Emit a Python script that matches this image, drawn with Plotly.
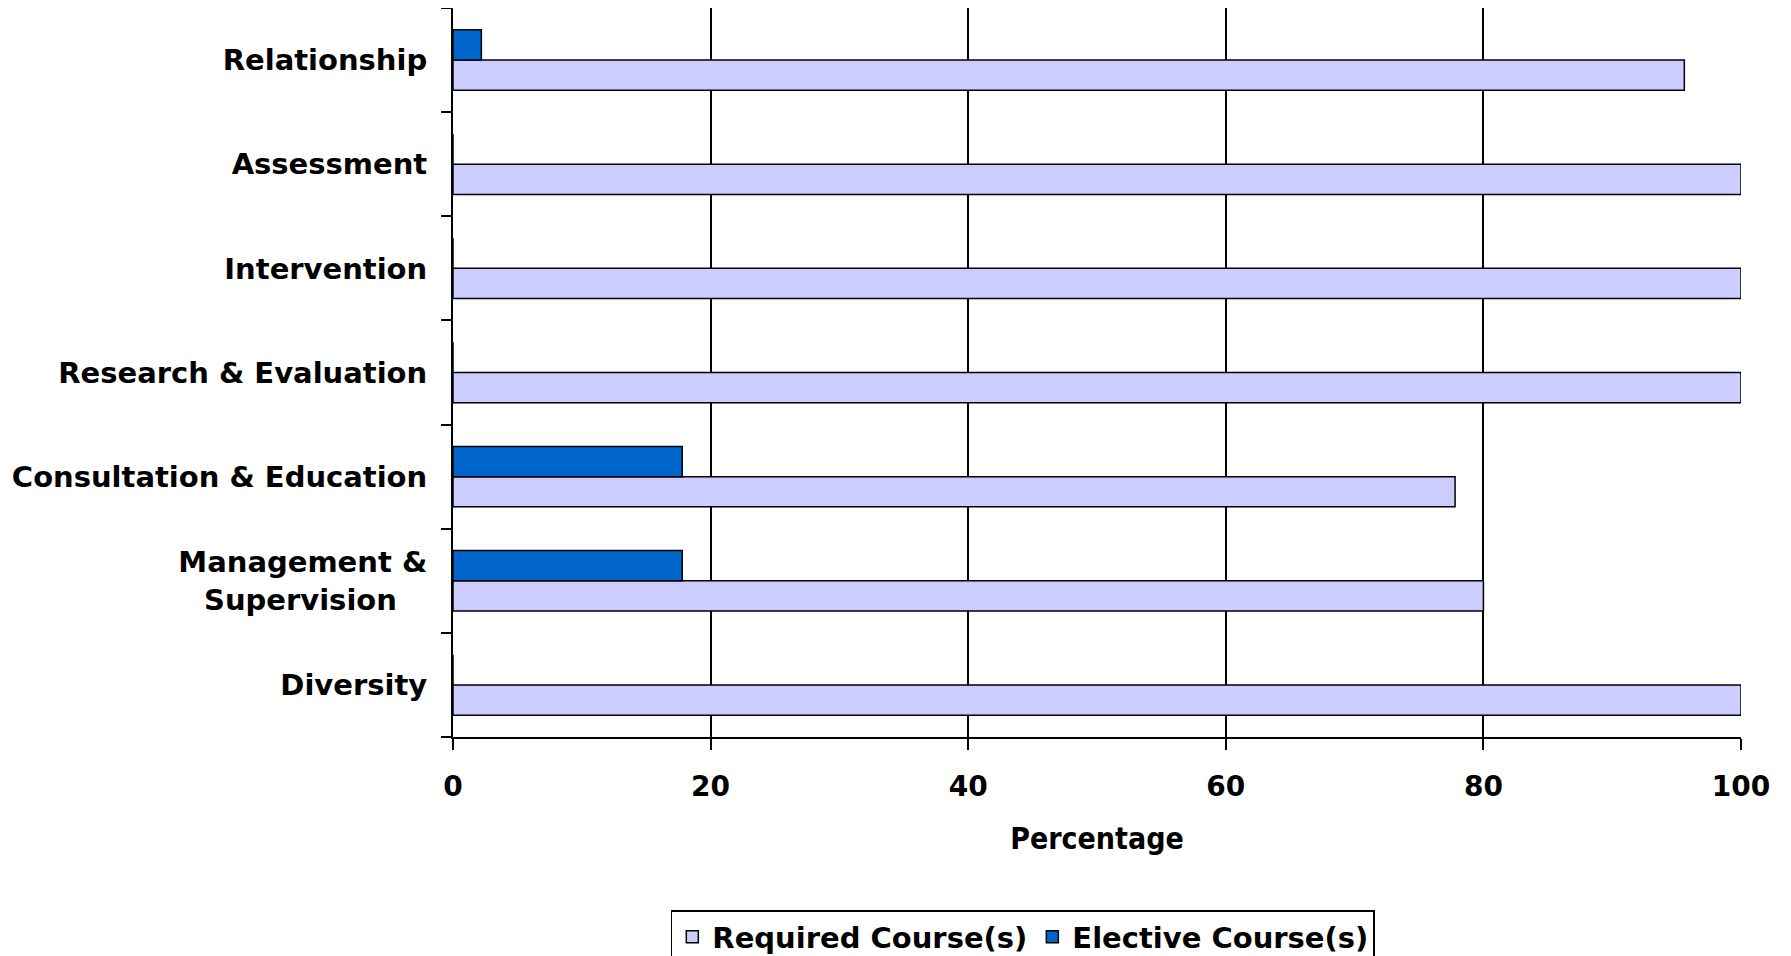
import plotly.graph_objects as go

# categories listed bottom-up so the first trace sits below the second in each group
categories = [
    "Diversity",
    "Management &<br>Supervision\u00a0\u00a0\u00a0",
    "Consultation & Education",
    "Research & Evaluation",
    "Intervention",
    "Assessment",
    "Relationship",
]
required = [100, 80, 77.8, 100, 100, 100, 95.6]
elective = [0, 17.8, 17.8, 0, 0, 0, 2.2]
x_ticks = [0, 20, 40, 60, 80, 100]

FONT = "Verdana, DejaVu Sans, sans-serif"
FONT_NARROW = "DejaVu Sans Condensed, Verdana, DejaVu Sans, sans-serif"

fig = go.Figure()
fig.add_trace(go.Bar(
    y=categories, x=required, orientation="h",
    name="<b>Required Course(s)</b>",
    marker=dict(color="#CCCCFF", line=dict(color="#000000", width=1.5)),
))
fig.add_trace(go.Bar(
    y=categories, x=elective, orientation="h",
    name="<b>Elective Course(s)</b>",
    marker=dict(color="#0066CC", line=dict(color="#000000", width=1.5)),
))

fig.update_layout(
    width=1791, height=956,
    barmode="group", bargap=0.42, bargroupgap=0,
    paper_bgcolor="white", plot_bgcolor="white",
    margin=dict(l=445, r=58, t=0, b=226),
    font=dict(family=FONT, size=28, color="#000000"),
    legend=dict(
        orientation="h", x=0.4424, xanchor="center", y=-0.238, yanchor="top",
        bordercolor="#000000", borderwidth=1.5, bgcolor="white",
        font=dict(family=FONT, size=29, color="#000000"),
        itemwidth=30, traceorder="normal",
    ),
)

fig.update_xaxes(
    range=[0, 100], tickvals=x_ticks,
    ticktext=[f"<b>{v}</b>" for v in x_ticks],
    tickfont=dict(family=FONT, size=28),
    showgrid=True, gridcolor="#000000", gridwidth=1.5,
    showline=True, linecolor="#000000", linewidth=2,
    ticks="outside", ticklen=11, tickwidth=1.5, tickcolor="#000000",
    ticklabelstandoff=12,
    zeroline=False,
    title=dict(text="<b>Percentage</b>", standoff=26,
               font=dict(family=FONT_NARROW, size=30)),
)
fig.update_yaxes(
    type="category", categoryorder="array", categoryarray=categories,
    tickvals=categories, ticktext=[f"<b>{c}</b>" for c in categories],
    tickfont=dict(family=FONT, size=29),
    showgrid=False,
    showline=True, linecolor="#000000", linewidth=2,
    ticks="outside", ticklen=10, tickwidth=1.5, tickcolor="#000000",
    tickson="boundaries", ticklabelstandoff=18,
)

fig.write_html("out.html")
